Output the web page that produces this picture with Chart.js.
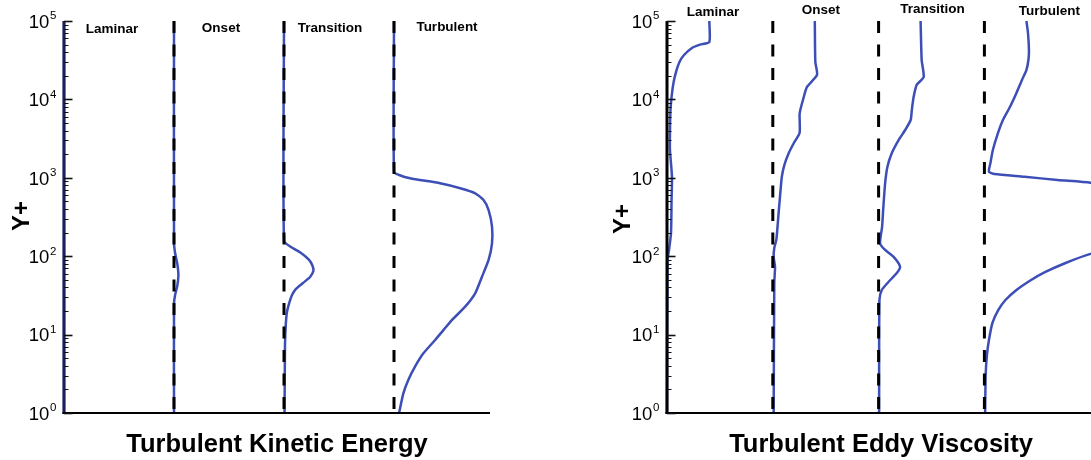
<!DOCTYPE html>
<html>
<head>
<meta charset="utf-8">
<script src="https://cdn.jsdelivr.net/npm/chart.js@4.4.1/dist/chart.umd.min.js"></script>
<style>
  html, body { margin: 0; padding: 0; background: #fff; overflow: hidden; }
  .panel { position: absolute; top: 0; width: 545px; height: 460px; }
  #tkePanel { left: 0; }
  #nutPanel { left: 546px; }
</style>
</head>
<body>
<div class="panel" id="tkePanel"><canvas id="tkeChart" width="545" height="460"></canvas></div>
<div class="panel" id="nutPanel"><canvas id="nutChart" width="545" height="460"></canvas></div>
<script>
const stations = ['Laminar', 'Onset', 'Transition', 'Turbulent'];
const decades = [0, 1, 2, 3, 4, 5];

// Turbulent kinetic energy: y+ and offset from each station line (station spacing = 1)
const tkeLaminarY = [1, 100000];
const tkeLaminarX = [0, 0];
const tkeOnsetY = [1, 25, 32, 42, 57, 80, 110, 150, 100000];
const tkeOnsetX = [0, 0, 0.01, 0.03, 0.04, 0.03, 0.01, 0, 0];
const tkeTransitionY = [1, 7.4, 13.3, 19.4, 26, 32, 38.2, 45.5, 54.3, 64.7, 75, 89.7, 110, 131, 156, 100000];
const tkeTransitionX = [0.005, 0.009, 0.016, 0.027, 0.05, 0.073, 0.109, 0.173, 0.237, 0.267, 0.26, 0.228, 0.155, 0.064, 0, 0];
const tkeTurbulentY = [1, 1.78, 2.64, 3.9, 5.77, 8.53, 11.4, 15.3, 22.7, 33.6, 54.8, 89.5, 146, 238, 388, 521, 634, 735, 851, 986, 1086, 1186, 100000];
const tkeTurbulentX = [0.046, 0.085, 0.13, 0.191, 0.267, 0.374, 0.449, 0.526, 0.647, 0.738, 0.8, 0.86, 0.891, 0.891, 0.86, 0.814, 0.738, 0.602, 0.419, 0.146, 0.046, 0, 0];

// Turbulent eddy viscosity
const nutLaminarY = [1, 89, 120, 198, 521, 1024, 2265, 3725, 7330, 10700, 16200, 22300, 30000, 36800, 45300, 50000, 54000, 100000];
const nutLaminarX = [0, 0.005, 0.019, 0.038, 0.043, 0.047, 0.028, 0.028, 0.033, 0.043, 0.061, 0.085, 0.118, 0.161, 0.236, 0.312, 0.4, 0.4];
const nutOnsetY = [1, 45.5, 72.8, 98, 127, 161, 198, 356, 640, 1024, 1455, 2070, 2780, 3725, 6330, 7330, 9820, 14400, 20500, 30000, 100000];
const nutOnsetX = [0.008, 0.014, 0.021, 0.008, 0.014, 0.033, 0.04, 0.055, 0.071, 0.085, 0.109, 0.151, 0.199, 0.253, 0.253, 0.26, 0.285, 0.323, 0.418, 0.402, 0.397];
const nutTransitionY = [1, 27.6, 37, 46.9, 61, 73.5, 98.6, 120, 146, 236, 424, 859, 1374, 2070, 3030, 4070, 5460, 7330, 10700, 15300, 19300, 31800, 100000];
const nutTransitionX = [0.005, 0.008, 0.03, 0.093, 0.172, 0.203, 0.14, 0.062, 0.014, 0.033, 0.045, 0.062, 0.083, 0.125, 0.189, 0.251, 0.303, 0.314, 0.331, 0.36, 0.426, 0.407, 0.397];
const nutTurbulentY = [1, 3.05, 5.5, 8.53, 14.1, 20.6, 27.6, 37, 48.3, 62.9, 81.9, 107, 139, 250, 450, 698, 865, 937, 1032, 1117, 1196, 1545, 2265, 3725, 5460, 8000, 12100, 17700, 23700, 31800, 42700, 70300, 100000];
const nutTurbulentX = [0.007, 0.012, 0.024, 0.043, 0.076, 0.132, 0.199, 0.303, 0.426, 0.577, 0.767, 1.003, 1.42, 1.8, 1.75, 1.42, 1.003, 0.691, 0.379, 0.095, 0.043, 0.057, 0.08, 0.128, 0.175, 0.241, 0.303, 0.355, 0.397, 0.416, 0.421, 0.412, 0.397];

const FONT = '"Liberation Sans", Arial, Helvetica, sans-serif';
const BLUE = '#3d4fb6';

function profile(station, yPlus, offset) {
  return yPlus.map((v, i) => ({ x: station + offset[i], y: v }));
}

function curve(station, yPlus, offset) {
  return {
    data: profile(station, yPlus, offset),
    borderColor: BLUE,
    borderWidth: 2.5,
    tension: 0.2,
    order: 1
  };
}

function stationLine(station) {
  return {
    data: [{ x: station, y: 100000 }, { x: station, y: 1 }],
    borderColor: '#000',
    borderWidth: 3,
    borderDash: [12, 11.5],
    order: 0
  };
}

// axis lines, inward log ticks, 10^n labels, station names and titles
const axisDecor = {
  id: 'axisDecor',
  afterDatasetsDraw(chart, args, o) {
    const { ctx, chartArea: a, scales: { x, y } } = chart;
    ctx.save();

    ctx.strokeStyle = o.axisColor;
    ctx.lineWidth = 3;
    ctx.beginPath();
    ctx.moveTo(a.left, a.top);
    ctx.lineTo(a.left, a.bottom + 1);
    ctx.stroke();

    ctx.strokeStyle = '#000';
    ctx.lineWidth = 2;
    ctx.beginPath();
    ctx.moveTo(a.left - 1.5, a.bottom);
    ctx.lineTo(a.right, a.bottom);
    ctx.stroke();

    ctx.strokeStyle = '#111';
    decades.forEach(d => {
      for (let m = 1; m <= 9; m++) {
        const v = m * Math.pow(10, d);
        if (v > y.max) break;
        const py = Math.round(y.getPixelForValue(v)) + 0.5;
        ctx.lineWidth = m === 1 ? 1.6 : 1;
        ctx.beginPath();
        ctx.moveTo(a.left, py);
        ctx.lineTo(a.left + (m === 1 ? 8.5 : 4.5), py);
        ctx.stroke();
      }
    });

    ctx.fillStyle = '#000';
    ctx.textBaseline = 'alphabetic';
    ctx.textAlign = 'right';
    decades.forEach(d => {
      const py = y.getPixelForValue(Math.pow(10, d));
      const supRight = a.left - 7.5;
      ctx.font = '11.5px ' + FONT;
      ctx.fillText(String(d), supRight, py - 1.7);
      const supW = ctx.measureText(String(d)).width;
      ctx.font = '18.5px ' + FONT;
      ctx.fillText('10', supRight - supW - 0.7, py + 6.7);
    });

    ctx.textAlign = 'center';
    ctx.font = 'bold 13.5px ' + FONT;
    stations.forEach((name, i) => {
      ctx.fillText(name, x.getPixelForValue(i) + o.labelDx[i], o.labelY[i]);
    });

    ctx.font = 'bold 25.5px ' + FONT;
    ctx.fillText(o.title, o.titleX, 451.7);

    ctx.save();
    ctx.translate(o.yTitleX, o.yTitleY);
    ctx.rotate(-Math.PI / 2);
    ctx.textBaseline = 'middle';
    ctx.font = 'bold 24px ' + FONT;
    ctx.fillText('Y+', 0, 0);
    ctx.restore();

    ctx.restore();
  }
};

function makeChart(id, datasets, xMax, padLeft, padRight, decor) {
  return new Chart(document.getElementById(id), {
    type: 'scatter',
    data: { datasets: datasets },
    options: {
      responsive: false,
      animation: false,
      showLine: true,
      clip: false,
      elements: { point: { radius: 0, hoverRadius: 0 } },
      layout: { padding: { left: padLeft, right: padRight, top: 21, bottom: 47 } },
      scales: {
        x: { type: 'linear', min: 0, max: xMax, display: false },
        y: { type: 'logarithmic', min: 1, max: 100000, display: false }
      },
      plugins: {
        legend: { display: false },
        tooltip: { enabled: false },
        axisDecor: decor
      }
    },
    plugins: [axisDecor]
  });
}

// 1. Turbulent kinetic energy
makeChart('tkeChart', [
  curve(0, tkeLaminarY, tkeLaminarX),
  curve(1, tkeOnsetY, tkeOnsetX),
  curve(2, tkeTransitionY, tkeTransitionX),
  curve(3, tkeTurbulentY, tkeTurbulentX),
  stationLine(1), stationLine(2), stationLine(3)
], 426 / 110, 64, 55, {
  axisColor: '#1c1f5c',
  labelDx: [48, 47, 46, 53],
  labelY: [33, 32, 32, 31],
  title: 'Turbulent Kinetic Energy',
  titleX: 277,
  yTitleX: 22,
  yTitleY: 216
});

// 2. Turbulent eddy viscosity (turbulent profile runs past the right edge)
const nutCfg = makeChart('nutChart', [
  curve(0, nutLaminarY, nutLaminarX),
  curve(1, nutOnsetY, nutOnsetX),
  curve(2, nutTransitionY, nutTransitionX),
  curve(3, nutTurbulentY, nutTurbulentX),
  stationLine(1), stationLine(2), stationLine(3)
], 424 / 105.8, 121, 0, {
  axisColor: '#000',
  labelDx: [46, 48, 54, 65],
  labelY: [16, 14, 12.7, 15],
  title: 'Turbulent Eddy Viscosity',
  titleX: 335,
  yTitleX: 77,
  yTitleY: 219
});
</script>
</body>
</html>
